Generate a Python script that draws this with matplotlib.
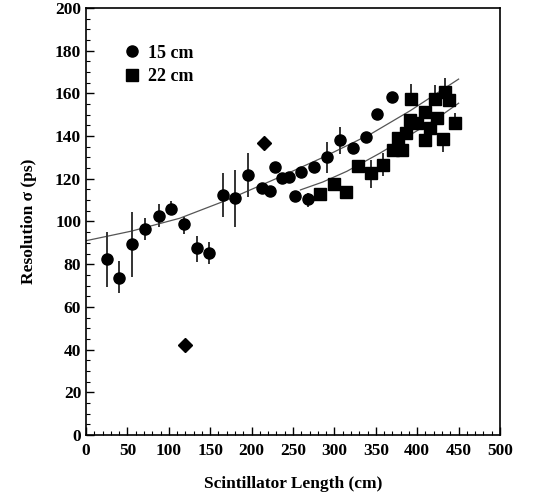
import numpy as np
import matplotlib.pyplot as plt

plt.rcParams['font.family'] = ['Liberation Serif', 'DejaVu Serif']
plt.rcParams['font.weight'] = 'bold'

# 15 cm counters (circles)
len_15 = [25, 40, 56, 71, 88, 103, 118, 134, 149, 166, 180, 196, 213, 222, 228,
          237, 245, 252, 260, 268, 275, 291, 307, 322, 338, 352, 369]
res_15 = [82.3, 73.7, 89.3, 96.3, 102.6, 105.7, 98.7, 87.4, 85.1, 112.4, 110.9,
          121.8, 115.5, 114.4, 125.4, 120.2, 120.7, 112.1, 123.3, 110.4, 125.4,
          130.0, 138.2, 134.6, 139.7, 150.2, 158.5]
lo_15 = [13.0, 7.3, 15.2, 5.0, 5.0, 2.7, 4.6, 6.2, 5.0, 10.1, 13.3, 10.5, 1, 1, 1,
         1, 1, 1, 1, 3.4, 1, 7.4, 6.6, 1, 1, 1, 1]
hi_15 = [12.9, 7.8, 15.0, 5.2, 5.4, 4.0, 3.6, 5.8, 5.3, 10.2, 13.2, 10.1, 1, 1, 1,
         1, 1, 1, 1, 3.0, 1, 7.4, 6.2, 1, 1, 1, 1]

# 22 cm counters (squares)
len_22 = [283, 299, 314, 328, 344, 359, 371, 382, 377, 386, 391, 393, 400, 409,
          424, 416, 409, 431, 422, 433, 439, 446]
res_22 = [113.0, 117.6, 113.7, 126.0, 122.6, 126.5, 133.6, 133.6, 139.0, 141.3,
          147.5, 157.4, 146.0, 151.5, 148.3, 143.6, 138.2, 138.5, 157.4, 160.5,
          157.0, 146.0]
lo_22 = [1, 1, 3.3, 1, 7.1, 5.2, 1, 1, 1, 1, 1, 3.4, 1, 1, 1, 1, 1, 5.8, 1, 1, 1, 1]
hi_22 = [1, 1, 2.9, 1, 6.2, 5.4, 1, 1, 1, 1, 1, 7.0, 1, 1, 1, 1, 1, 1, 6.6, 6.5, 1, 5.0]

# extra points (diamonds)
len_d = [120, 215]
res_d = [42.0, 136.6]

# fitted curves
fit15_x = [0, 55, 113, 170, 228, 286, 344, 392, 450]
fit15_y = [91.0, 95.5, 101.5, 110.0, 119.8, 130.0, 141.0, 152.0, 166.7]
fit22_x = [259, 286, 315, 355, 387, 421, 450]
fit22_y = [114.8, 118.5, 123.5, 132.0, 139.5, 147.5, 155.4]

fig = plt.figure(figsize=(5.45, 4.97), dpi=100)
ax = fig.add_axes([86 / 545, 1 - 435 / 497, 414 / 545, 427 / 497])

ax.plot(fit15_x, fit15_y, color='#555555', lw=0.9)
ax.plot(fit22_x, fit22_y, color='#555555', lw=0.9)

ax.errorbar(len_15, res_15, yerr=[lo_15, hi_15], fmt='o', color='black',
            ecolor='#333333', elinewidth=1.4, capsize=0, ms=8, label='15 cm')
ax.errorbar(len_22, res_22, yerr=[lo_22, hi_22], fmt='s', color='black',
            ecolor='#333333', elinewidth=1.4, capsize=0, ms=8, label='22 cm')
ax.plot(len_d, res_d, 'D', color='black', ms=7.5)

ax.set_xlim(0, 500)
ax.set_ylim(0, 200)
ax.set_xticks(np.arange(0, 501, 50))
ax.set_xticks(np.arange(0, 501, 10), minor=True)
ax.set_yticks(np.arange(0, 201, 20))
ax.set_yticks(np.arange(0, 201, 5), minor=True)
ax.tick_params(direction='in', which='major', length=6, width=1, labelsize=12.5)
ax.tick_params(direction='in', which='minor', length=3, width=0.8)
ax.tick_params(axis='x', pad=6)
for s in ax.spines.values():
    s.set_linewidth(1.2)

ax.set_xlabel('Scintillator Length (cm)', fontsize=12.5, fontweight='bold', labelpad=12)
ax.set_ylabel('Resolution σ (ps)', fontsize=12.5, fontweight='bold', labelpad=13)

handles, labels = ax.get_legend_handles_labels()
ax.legend([h[0] for h in handles], labels, loc='upper left', frameon=False,
          bbox_to_anchor=(0.05, 0.952), handletextpad=0.4, labelspacing=0.35,
          prop={'size': 13, 'weight': 'bold'}, handlelength=1.0)

fig.savefig('out.png', dpi=100)
